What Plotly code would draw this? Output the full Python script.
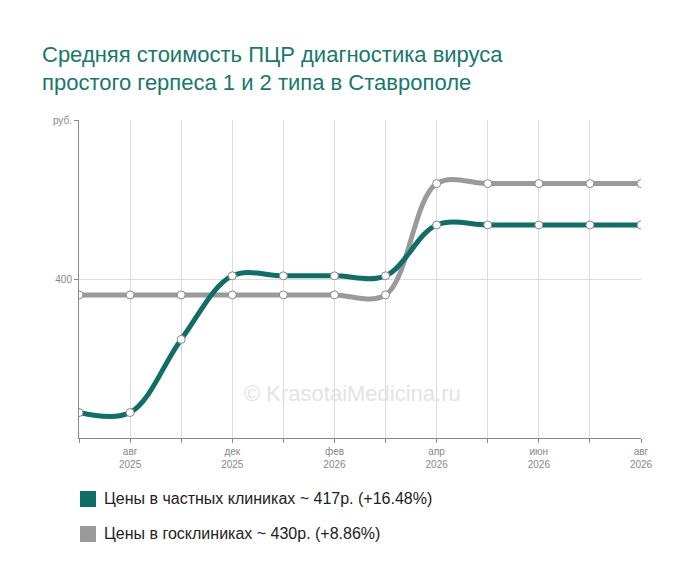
import plotly.graph_objects as go

months = ["июл 2025","авг 2025","сен 2025","дек 2025","янв 2026","фев 2026","мар 2026","апр 2026","май 2026","июн 2026","июл 2026","авг 2026"]
tick_labels = ["","авг<br>2025","","дек<br>2025","","фев<br>2026","","апр<br>2026","","июн<br>2026","","авг<br>2026"]
private = [358, 358, 381, 401, 401, 401, 401, 417, 417, 417, 417, 417]
gov = [395, 395, 395, 395, 395, 395, 395, 430, 430, 430, 430, 430]
x = list(range(len(months)))

W, H = 700, 582
L, R, T, B = 71, 67, 112, 152
PW, PH = W - L - R, H - T - B
def px(xp): return (xp - 8 - L) / PW
def py(yp): return (H - B - (yp - 8)) / PH

fig = go.Figure()
fig.add_trace(go.Scatter(x=x, y=gov, mode="lines+markers", line=dict(color="#9a9a9a", width=5, shape="spline", smoothing=1.0),
    marker=dict(size=8, color="white", line=dict(color="#888", width=1)), showlegend=False))
fig.add_trace(go.Scatter(x=x, y=private, mode="lines+markers", line=dict(color="#0f6f66", width=5, shape="spline", smoothing=1.0),
    marker=dict(size=8, color="white", line=dict(color="#888", width=1)), showlegend=False))

fig.update_layout(
    width=W, height=H, paper_bgcolor="white", plot_bgcolor="white",
    margin=dict(l=L, r=R, t=T, b=B, autoexpand=False),
    font=dict(family="Liberation Sans, Arial", color="#888"),
    title=dict(text="Средняя стоимость ПЦР диагностика вируса<br>простого герпеса 1 и 2 типа в Ставрополе",
               x=34/W, xanchor="left", y=0.908, yanchor="top", font=dict(size=22, color="#17786c")),
    xaxis=dict(tickmode="array", tickvals=x, ticktext=tick_labels, range=[0, 11], showgrid=True, gridcolor="#dcdcdc", automargin=False,
               tickfont=dict(size=10, color="#888"), showline=True, linecolor="#888", ticks="outside", ticklen=4, tickcolor="#888", zeroline=False),
    yaxis=dict(range=[350, 450], tickvals=[400, 450], ticktext=["400", "руб."], showgrid=True, gridcolor="#dcdcdc", automargin=False,
               tickfont=dict(size=10, color="#888"), showline=True, linecolor="#888", ticks="outside", ticklen=4, tickcolor="#888", zeroline=False),
    showlegend=False,
)
fig.add_annotation(text="© KrasotaiMedicina.ru", xref="paper", yref="paper", x=px(352), y=py(408), showarrow=False,
                   font=dict(size=22, color="#e3e3e3"))
for i, (txt, col) in enumerate([("Цены в частных клиниках ~ 417р. (+16.48%)", "#0f6f66"), ("Цены в госклиниках ~ 430р. (+8.86%)", "#9a9a9a")]):
    yy = 509 + i * 35
    sy = yy - 10
    fig.add_shape(type="rect", xref="paper", yref="paper", x0=px(80), x1=px(96),
                  y0=py(sy + 8), y1=py(sy - 8), fillcolor=col, line=dict(width=0))
    fig.add_annotation(text=txt, xref="paper", yref="paper", x=px(102), y=py(yy), xanchor="left",
                       showarrow=False, font=dict(size=16, color="#222"))
fig.write_html("out.html")
